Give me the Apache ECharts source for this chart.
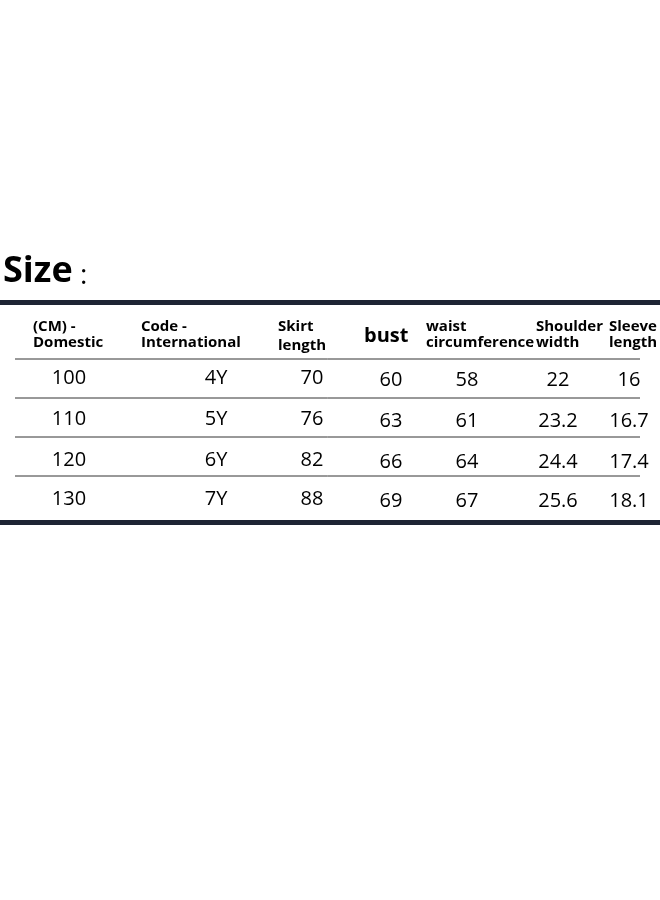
<!DOCTYPE html>
<html><head><meta charset="utf-8">
<script src="https://cdn.jsdelivr.net/npm/echarts@6/dist/echarts.min.js"></script>
<style>html,body{margin:0;background:#fff}#c{width:660px;height:900px}</style>
</head><body><div id="c"></div>
<script>
var headLine1 = ['(CM) -', 'Code -', 'Skirt', 'bust', 'waist', 'Shoulder', 'Sleeve'];
var headLine2 = ['Domestic', 'International', 'length', '', 'circumference', 'width', 'length'];
var domestic = ['100', '110', '120', '130'];
var international = ['4Y', '5Y', '6Y', '7Y'];
var skirt = ['70', '76', '82', '88'];
var bust = ['60', '63', '66', '69'];
var waist = ['58', '61', '64', '67'];
var shoulder = ['22', '23.2', '24.4', '25.6'];
var sleeve = ['16', '16.7', '17.4', '18.1'];

var columns = [domestic, international, skirt, bust, waist, shoulder, sleeve];
var headX = [33, 141, 278, 364, 426, 536, 609];
var cellX = [69, 216, 312, 391, 467, 558, 629];
var rowY = [378, 419, 460, 499];
var sepY = [359, 398, 437, 476];

var chart = echarts.init(document.getElementById('c'));
var g = [];
g.push({type:'text', left:3, top:254, style:{text:'Size', font:'bold 36px "Open Sans"', fill:'#000'}});
g.push({type:'text', left:80, top:262, style:{text:':', font:'28px "Open Sans"', fill:'#000'}});
g.push({type:'rect', shape:{x:0, y:300, width:660, height:5}, style:{fill:'#1e2434'}});
g.push({type:'rect', shape:{x:0, y:520, width:660, height:5}, style:{fill:'#1e2434'}});
sepY.forEach(function (y) {
  g.push({type:'line', shape:{x1:15, y1:y, x2:640, y2:y}, style:{stroke:'#333', lineWidth:1}});
});
headLine1.forEach(function (t, i) {
  if (t === 'bust') {
    g.push({type:'text', x:headX[i], y:336, style:{text:t, font:'bold 20px "Open Sans"', fill:'#000', textVerticalAlign:'middle'}});
    return;
  }
  g.push({type:'text', x:headX[i], y:327, style:{text:t, font:'bold 15px "Open Sans"', fill:'#000', textVerticalAlign:'middle'}});
  g.push({type:'text', x:headX[i], y:i === 2 ? 346 : 343, style:{text:headLine2[i], font:'bold 15px "Open Sans"', fill:'#000', textVerticalAlign:'middle'}});
});
columns.forEach(function (col, i) {
  col.forEach(function (v, r) {
    g.push({type:'text', x:cellX[i], y:rowY[r] + (i >= 3 ? 2 : 0), style:{text:v, font:'20px "Open Sans"', fill:'#000', textAlign:'center', textVerticalAlign:'middle'}});
  });
});
chart.setOption({backgroundColor:'#fff', animation:false, graphic:g});
</script></body></html>
